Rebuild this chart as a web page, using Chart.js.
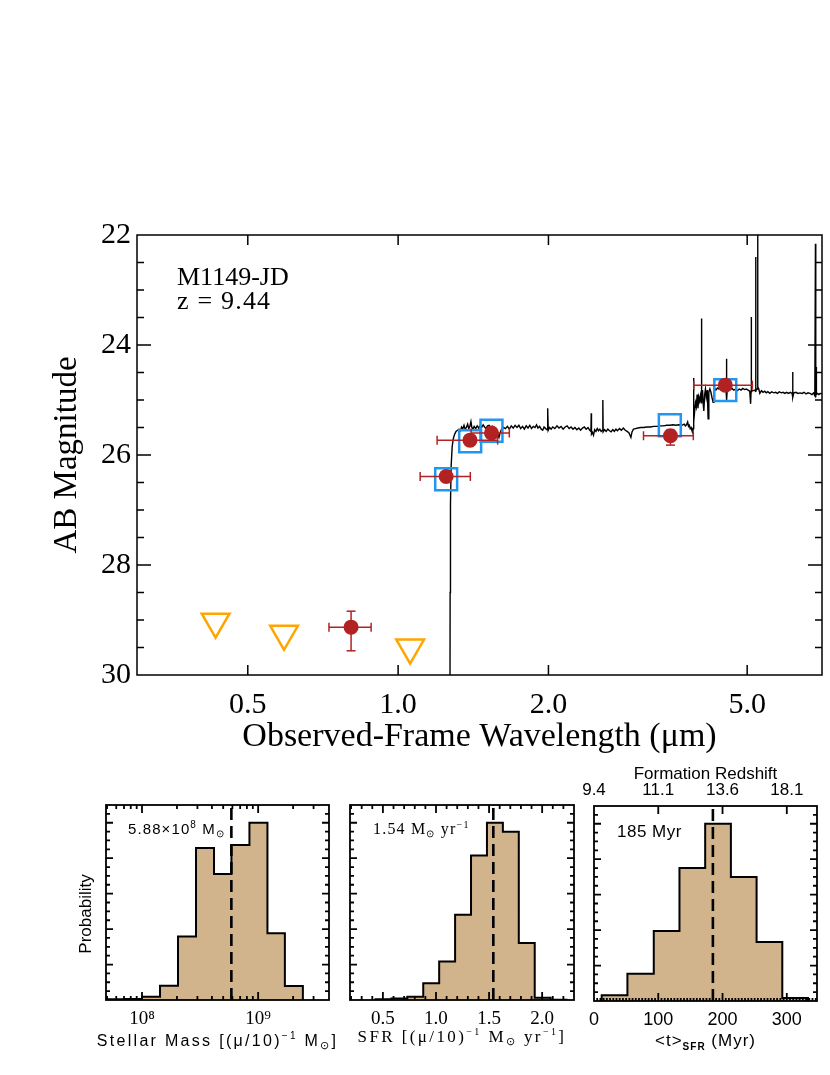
<!DOCTYPE html>
<html>
<head>
<meta charset="utf-8">
<title>M1149-JD SED</title>
<script src="https://cdn.jsdelivr.net/npm/chart.js@4.4.1/dist/chart.umd.min.js"></script>
<style>
  html, body { margin: 0; padding: 0; background: #fff; }
  #page { position: relative; width: 830px; height: 1075px; overflow: hidden; }
  #page canvas { position: absolute; }
</style>
</head>
<body>
<div id="page">
  <canvas id="sed" width="830" height="760" style="left:0;top:0"></canvas>
  <canvas id="mass" width="300" height="320" style="left:40px;top:755px"></canvas>
  <canvas id="sfr" width="245" height="320" style="left:340px;top:755px"></canvas>
  <canvas id="age" width="255" height="320" style="left:575px;top:755px"></canvas>
</div>
<script>
// observed photometry (micron, AB mag)
const bandWave   = [0.805, 1.248, 1.393, 1.538, 3.51, 4.52];
const bandWaveLo = [0.727, 1.107, 1.197, 1.400, 3.10, 3.91];
const bandWaveHi = [0.883, 1.395, 1.582, 1.670, 3.90, 5.12];
const bandMag    = [29.13, 26.39, 25.73, 25.60, 25.65, 24.73];
const bandMagLo  = [28.84, null, null, null, 25.55, null];
const bandMagHi  = [29.56, null, null, null, 25.82, null];

// upper limits
const limitWave = [0.431, 0.591, 1.057];
const limitMag  = [29.03, 29.25, 29.50];

// model photometry
const modelWave = [1.248, 1.394, 1.538, 3.50, 4.52];
const modelMag  = [26.44, 25.75, 25.56, 25.46, 24.82];

// best-fit model spectrum
const specWave = [
  1.270, 1.271, 1.273, 1.277, 1.283, 1.290, 1.298, 1.306, 1.315, 1.324,
  1.333, 1.340, 1.348, 1.355, 1.362, 1.370, 1.378, 1.385, 1.392, 1.399,
  1.405, 1.412, 1.420, 1.430, 1.440, 1.450, 1.460, 1.470, 1.480, 1.490,
  1.500, 1.510, 1.522, 1.532, 1.545, 1.558, 1.570, 1.582, 1.592, 1.600,
  1.610, 1.625, 1.640, 1.655, 1.670, 1.685, 1.700, 1.715, 1.730, 1.745,
  1.760, 1.775, 1.790, 1.805, 1.820, 1.835, 1.850, 1.865, 1.880, 1.893,
  1.905, 1.920, 1.935, 1.948, 1.960, 1.975, 1.988, 1.993, 1.998, 2.010,
  2.025, 2.040, 2.060, 2.080, 2.100, 2.120, 2.140, 2.160, 2.180, 2.200,
  2.220, 2.240, 2.260, 2.280, 2.300, 2.320, 2.340, 2.360, 2.380, 2.400,
  2.420, 2.433, 2.436, 2.439, 2.450, 2.462, 2.475, 2.490, 2.505, 2.520,
  2.535, 2.550, 2.566, 2.570, 2.574, 2.590, 2.610, 2.630, 2.650, 2.670,
  2.690, 2.710, 2.730, 2.750, 2.775, 2.800, 2.825, 2.850, 2.875, 2.900,
  2.925, 2.940, 2.960, 2.990, 3.020, 3.060, 3.100, 3.150, 3.200, 3.250,
  3.300, 3.350, 3.400, 3.450, 3.500, 3.550, 3.600, 3.650, 3.700, 3.740,
  3.760, 3.780, 3.800, 3.815, 3.830, 3.845, 3.860, 3.875, 3.890, 3.900,
  3.905, 3.910, 3.925, 3.940, 3.955, 3.970, 3.985, 4.000, 4.015, 4.030,
  4.045, 4.050, 4.055, 4.070, 4.085, 4.094, 4.110, 4.125, 4.140, 4.160,
  4.176, 4.190, 4.210, 4.230, 4.250, 4.273, 4.290, 4.307, 4.330, 4.360,
  4.390, 4.420, 4.450, 4.480, 4.510, 4.535, 4.545, 4.550, 4.560, 4.590,
  4.620, 4.660, 4.700, 4.740, 4.780, 4.820, 4.860, 4.900, 4.940, 4.980,
  5.020, 5.060, 5.080, 5.090, 5.095, 5.100, 5.140, 5.180, 5.195, 5.200,
  5.205, 5.235, 5.245, 5.255, 5.275, 5.300, 5.340, 5.380, 5.420, 5.460,
  5.500, 5.550, 5.600, 5.650, 5.700, 5.750, 5.800, 5.850, 5.900, 5.950,
  6.000, 6.050, 6.100, 6.150, 6.165, 6.175, 6.200, 6.260, 6.320, 6.380,
  6.440, 6.500, 6.560, 6.620, 6.680, 6.740, 6.790, 6.830, 6.850, 6.860,
  6.870, 6.880, 6.920, 6.960, 7.000, 7.100
];
const specMag = [
  31.00, 28.50, 26.90, 26.20, 25.85, 25.70, 25.62, 25.57, 25.55, 25.53,
  25.56, 25.49, 25.52, 25.46, 25.53, 25.50, 25.44, 25.52, 25.48, 25.39,
  25.50, 25.53, 25.48, 25.52, 25.47, 25.51, 25.46, 25.50, 25.45, 25.49,
  25.52, 25.47, 25.46, 25.51, 25.48, 25.53, 25.57, 25.62, 25.68, 25.60,
  25.54, 25.50, 25.52, 25.48, 25.53, 25.47, 25.51, 25.46, 25.50, 25.46,
  25.52, 25.48, 25.53, 25.47, 25.51, 25.46, 25.52, 25.48, 25.50, 25.45,
  25.51, 25.48, 25.53, 25.55, 25.49, 25.52, 25.54, 25.15, 25.55, 25.50,
  25.53, 25.49, 25.52, 25.47, 25.51, 25.48, 25.53, 25.49, 25.47, 25.52,
  25.49, 25.53, 25.50, 25.54, 25.51, 25.55, 25.51, 25.49, 25.53, 25.50,
  25.55, 25.57, 25.24, 25.62, 25.59, 25.64, 25.54, 25.57, 25.52, 25.56,
  25.53, 25.57, 25.55, 25.00, 25.58, 25.54, 25.57, 25.53, 25.56, 25.58,
  25.54, 25.57, 25.53, 25.56, 25.52, 25.55, 25.51, 25.55, 25.57, 25.60,
  25.68, 25.58, 25.53, 25.52, 25.51, 25.50, 25.50, 25.49, 25.49, 25.48,
  25.48, 25.47, 25.47, 25.46, 25.46, 25.45, 25.46, 25.45, 25.46, 25.44,
  25.47, 25.45, 25.40, 25.48, 25.46, 25.52, 25.50, 25.55, 25.58, 25.52,
  24.60, 25.40, 25.20, 25.05, 25.12, 24.90, 25.15, 24.95, 25.02, 24.92,
  25.05, 23.52, 24.95, 24.82, 25.10, 25.20, 24.90, 24.80, 24.95, 24.82,
  25.34, 24.85, 24.80, 24.86, 24.95, 25.04, 24.85, 24.79, 24.82, 24.78,
  24.80, 24.77, 24.81, 24.78, 24.82, 24.80, 24.25, 25.00, 24.82, 24.78,
  24.81, 24.79, 24.82, 24.80, 24.83, 24.80, 24.82, 24.79, 24.81, 24.80,
  24.82, 24.84, 25.07, 24.85, 23.49, 24.84, 24.83, 24.82, 24.84, 22.40,
  24.83, 24.80, 21.00, 24.76, 24.80, 24.88, 24.83, 24.86, 24.84, 24.87,
  24.85, 24.88, 24.85, 24.87, 24.86, 24.88, 24.85, 24.87, 24.86, 24.88,
  24.86, 24.88, 24.86, 24.88, 24.49, 24.95, 24.87, 24.86, 24.88, 24.87,
  24.88, 24.86, 24.89, 24.87, 24.88, 24.90, 24.87, 24.92, 22.16, 24.95,
  24.40, 24.90, 24.88, 24.90, 24.88, 24.89
];

const waveTicks = [0.5, 1, 2, 5];
const magTicks  = [22, 24, 26, 28, 30];

// posterior histograms (bin edges + normalised probability)
const massEdges = [7.69, 7.845, 8.00, 8.155, 8.31, 8.465, 8.62, 8.77, 8.925, 9.08, 9.23, 9.385]; // log10 M
const massProb  = [0.004, 0.005, 0.019, 0.081, 0.358, 0.858, 0.711, 0.874, 1.0, 0.377, 0.079];
const massMedian = 5.88e8;
const massTicks = [8, 9];
const massTickLabels = ['10⁸', '10⁹'];

const sfrEdges = [0.43, 0.58, 0.73, 0.88, 1.03, 1.18, 1.33, 1.48, 1.63, 1.78, 1.93, 2.08, 2.23];
const sfrProb  = [0.004, 0.008, 0.019, 0.094, 0.217, 0.481, 0.815, 1.0, 0.949, 0.321, 0.013, 0.002];
const sfrMedian = 1.54;
const sfrTicks = [0.5, 1.0, 1.5, 2.0];

const ageEdges = [12, 52, 93, 133, 173, 213, 253, 293, 333];
const ageProb  = [0.032, 0.154, 0.395, 0.75, 1.0, 0.699, 0.333, 0.017];
const ageMedian = 185;
const ageTicks = [0, 100, 200, 300];
const formationZ = ['9.4', '11.1', '13.6', '18.1'];

const RED = '#b22222', BLUE = '#2196f3', ORANGE = '#ffa500', TAN = '#d2b48c';
const serif = '"Liberation Serif", "Times New Roman", serif';
const sans = '"Liberation Sans", Arial, sans-serif';

function steps(a, b, d) {
  const out = [];
  for (let v = a; v <= b + 1e-9; v += d) out.push(+v.toFixed(4));
  return out;
}

// keep the chart area exactly where the axis boxes put it
function fixX(h) {
  return s => { s.height = h; s.paddingLeft = 0; s.paddingRight = 0; };
}
function fixY(w) {
  return s => { s.width = w; s.paddingTop = 0; s.paddingBottom = 0; };
}

// IDL-style inward ticks on all four sides + frame
const inwardTicks = {
  id: 'inwardTicks',
  afterDatasetsDraw(chart, args, opt) {
    const { ctx, chartArea: a } = chart;
    const sx = chart.scales.x, sy = chart.scales.y;
    ctx.save();
    ctx.strokeStyle = '#000';
    ctx.lineWidth = opt.lineWidth || 1.5;
    ctx.beginPath();
    ['bottom', 'top', 'left', 'right'].forEach(side => {
      const s = opt[side];
      if (!s) return;
      [[s.major, s.majorLen], [s.minor, s.minorLen]].forEach(([vals, len]) => {
        (vals || []).forEach(v => {
          if (side === 'bottom' || side === 'top') {
            const p = sx.getPixelForValue(v);
            if (p <= a.left + 1 || p >= a.right - 1) return;
            const y0 = side === 'bottom' ? a.bottom : a.top;
            ctx.moveTo(p, y0);
            ctx.lineTo(p, side === 'bottom' ? y0 - len : y0 + len);
          } else {
            const p = sy.getPixelForValue(v);
            if (p <= a.top + 1 || p >= a.bottom - 1) return;
            const x0 = side === 'left' ? a.left : a.right;
            ctx.moveTo(x0, p);
            ctx.lineTo(side === 'left' ? x0 + len : x0 - len, p);
          }
        });
      });
    });
    ctx.stroke();
    ctx.strokeRect(a.left, a.top, a.right - a.left, a.bottom - a.top);
    ctx.restore();
  }
};

// free text with super/subscript runs
const notes = {
  id: 'notes',
  afterDraw(chart, args, opt) {
    const { ctx, chartArea: a } = chart;
    (opt.items || []).forEach(it => {
      ctx.save();
      ctx.fillStyle = '#000';
      ctx.textBaseline = 'alphabetic';
      ctx.textAlign = 'left';
      if ('letterSpacing' in ctx) ctx.letterSpacing = (it.spacing || 0) + 'px';
      const runs = it.runs.map(r => Object.assign({}, r, {
        font: (r.weight || '') + ' ' + (r.size || it.size) + 'px ' + it.family
      }));
      let w = 0;
      runs.forEach(r => { ctx.font = r.font; r.w = ctx.measureText(r.text).width; w += r.w; });
      let x, y;
      if (it.rotate) {
        ctx.translate(a.left + it.dx, a.top + it.dy);
        ctx.rotate(-Math.PI / 2);
        x = -w / 2; y = 0;
      } else {
        x = it.center ? (a.left + a.right) / 2 - w / 2 : a.left + it.dx;
        y = (it.fromBottom ? a.bottom : a.top) + it.dy;
      }
      runs.forEach(r => { ctx.font = r.font; ctx.fillText(r.text, x, y + (r.shift || 0)); x += r.w; });
      ctx.restore();
    });
  }
};

const noGrid = { display: false, drawTicks: false };

// ---------- main SED panel ----------
const spectrum = specWave.map((w, i) => ({ x: w, y: specMag[i] }));
const modelPts = modelWave.map((w, i) => ({ x: w, y: modelMag[i] }));
const bandPts = bandWave.map((w, i) => ({ x: w, y: bandMag[i] }));
const limitPts = limitWave.map((w, i) => ({ x: w, y: limitMag[i] }));
const xBars = [];
bandWave.forEach((w, i) => {
  xBars.push({ x: bandWaveLo[i], y: bandMag[i] }, { x: bandWaveHi[i], y: bandMag[i] }, { x: bandWaveHi[i], y: null });
});
const yBars = [];
bandWave.forEach((w, i) => {
  if (bandMagLo[i] == null) return;
  yBars.push({ x: w, y: bandMagLo[i] }, { x: w, y: bandMagHi[i] }, { x: w, y: null });
});

new Chart(document.getElementById('sed'), {
  type: 'line',
  data: {
    datasets: [
      { data: spectrum, borderColor: '#000', borderWidth: 1.4, pointRadius: 0, tension: 0, order: 6 },
      { data: modelPts, showLine: false, pointStyle: 'rect', pointRadius: 15.5,
        pointBorderColor: BLUE, pointBorderWidth: 2.5, pointBackgroundColor: 'rgba(0,0,0,0)', order: 5 },
      { data: xBars, borderColor: RED, borderWidth: 1.5, pointStyle: 'line', pointRotation: 90,
        pointRadius: 4.5, pointBorderColor: RED, pointBorderWidth: 1.5, order: 4 },
      { data: yBars, borderColor: RED, borderWidth: 1.5, pointStyle: 'line', pointRotation: 0,
        pointRadius: 4.5, pointBorderColor: RED, pointBorderWidth: 1.5, order: 3 },
      { data: limitPts, showLine: false, pointStyle: 'triangle', pointRotation: 180, pointRadius: 16,
        pointBorderColor: ORANGE, pointBorderWidth: 2.5, pointBackgroundColor: 'rgba(0,0,0,0)', order: 2 },
      { data: bandPts, showLine: false, pointStyle: 'circle', pointRadius: 7.5,
        pointBackgroundColor: RED, pointBorderColor: RED, pointBorderWidth: 0, order: 1 }
    ]
  },
  options: {
    responsive: false, animation: false, events: [],
    layout: { autoPadding: false, padding: { top: 235, right: 8, left: 0, bottom: 0 } },
    plugins: {
      legend: { display: false }, tooltip: { enabled: false },
      inwardTicks: {
        lineWidth: 1.5,
        bottom: { major: waveTicks, majorLen: 10 },
        top: { major: waveTicks, majorLen: 10 },
        left: { major: magTicks, minor: steps(22.5, 29.5, 0.5), majorLen: 14, minorLen: 7 },
        right: { major: magTicks, minor: steps(22.5, 29.5, 0.5), majorLen: 14, minorLen: 7 }
      },
      notes: {
        items: [
          { dx: 40, dy: 50, family: serif, size: 26, runs: [{ text: 'M1149-JD' }] },
          { dx: 40, dy: 74, family: serif, size: 26, spacing: 1.2, runs: [{ text: 'z = 9.44' }] }
        ]
      }
    },
    scales: {
      x: {
        type: 'logarithmic', min: 0.3, max: 7.06,
        grid: noGrid, border: { display: false },
        afterBuildTicks: s => { s.ticks = waveTicks.map(v => ({ value: v })); },
        afterFit: fixX(85),
        ticks: { color: '#000', font: { family: serif, size: 30 }, padding: 12, maxRotation: 0, autoSkip: false,
                 callback: v => Number(v).toFixed(1) },
        title: { display: true, text: 'Observed-Frame Wavelength (μm)', color: '#000',
                 font: { family: serif, size: 34 }, padding: { top: 0, bottom: 3 } }
      },
      y: {
        type: 'linear', min: 22, max: 30, reverse: true,
        grid: noGrid, border: { display: false },
        afterBuildTicks: s => { s.ticks = magTicks.map(v => ({ value: v })); },
        afterFit: fixY(137),
        ticks: { color: '#000', font: { family: serif, size: 30 }, padding: 6 },
        title: { display: true, text: 'AB Magnitude', color: '#000',
                 font: { family: serif, size: 33 }, padding: { top: 48, bottom: 0 } }
      }
    }
  },
  plugins: [inwardTicks, notes]
});

// ---------- posterior panels ----------
function posterior(id, o) {
  const hist = [{ x: o.edges[0], y: 0 }];
  o.probs.forEach((p, i) => hist.push({ x: o.edges[i], y: p }));
  hist.push({ x: o.edges[o.edges.length - 1], y: 0 });
  const median = [{ x: o.median, y: 0 }, { x: o.median, y: 1.1 }];

  const scales = {
    x: {
      type: 'linear', min: o.xMin, max: o.xMax,
      grid: noGrid, border: { display: false },
      afterBuildTicks: s => { s.ticks = o.ticks.map(v => ({ value: v })); },
      afterFit: fixX(o.xHeight),
      ticks: { color: '#000', font: o.tickFont, padding: 8, maxRotation: 0, autoSkip: false, callback: o.tickLabel }
    },
    y: {
      type: 'linear', min: 0, max: 1.1,
      grid: noGrid, border: { display: false },
      ticks: { display: false },
      afterFit: fixY(o.yWidth)
    }
  };
  if (o.topAxis) scales.x2 = o.topAxis;

  new Chart(document.getElementById(id), {
    type: 'line',
    data: {
      datasets: [
        { data: median, borderColor: '#000', borderWidth: 2.6, borderDash: [12, 6], pointRadius: 0, order: 0 },
        { data: hist, stepped: true, fill: 'origin', backgroundColor: TAN, borderColor: '#000',
          borderWidth: 2, pointRadius: 0, order: 1 }
      ]
    },
    options: {
      responsive: false, animation: false, events: [],
      layout: { autoPadding: false, padding: { top: o.padTop, right: o.padRight, left: 0, bottom: 0 } },
      plugins: {
        legend: { display: false }, tooltip: { enabled: false },
        inwardTicks: Object.assign({ lineWidth: 1.8 }, o.frameTicks),
        notes: { items: o.notes }
      },
      scales
    },
    plugins: [inwardTicks, notes]
  });
}

const probMajor = [0.2, 0.4, 0.6, 0.8, 1.0];
const probMinor = steps(0.05, 1.05, 0.05);
const sideY = { major: probMajor, minor: probMinor, majorLen: 7, minorLen: 4 };

const logMinor = [];
[7, 8, 9].forEach(n => [2, 3, 4, 5, 6, 7, 8, 9].forEach(k => logMinor.push(n + Math.log10(k))));

posterior('mass', {
  edges: massEdges, probs: massProb, median: Math.log10(massMedian),
  xMin: 7.69, xMax: 9.61, ticks: massTicks,
  tickLabel: v => massTickLabels[massTicks.indexOf(v)],
  tickFont: { family: serif, size: 19 },
  xHeight: 75, yWidth: 66, padTop: 50, padRight: 11,
  frameTicks: {
    bottom: { major: massTicks, minor: logMinor, majorLen: 8, minorLen: 4 },
    top: { major: massTicks, minor: logMinor, majorLen: 8, minorLen: 4 },
    left: sideY, right: sideY
  },
  notes: [
    { rotate: true, dx: -15, dy: 109, family: sans, size: 17, runs: [{ text: 'Probability' }] },
    { dx: 22, dy: 29, family: sans, size: 15, spacing: 1.1,
      runs: [{ text: '5.88×10' }, { text: '8', size: 10, shift: -6 }, { text: ' M' }, { text: '⊙', size: 10, shift: 3 }] },
    { center: true, fromBottom: true, dy: 46, family: sans, size: 16, spacing: 2.3,
      runs: [{ text: 'Stellar Mass [(μ/10)' }, { text: '−1', size: 10, shift: -7 }, { text: ' M' },
             { text: '⊙', size: 11, shift: 3 }, { text: ']' }] }
  ]
});

posterior('sfr', {
  edges: sfrEdges, probs: sfrProb, median: sfrMedian,
  xMin: 0.19, xMax: 2.30, ticks: sfrTicks,
  tickLabel: v => v.toFixed(1),
  tickFont: { family: serif, size: 19 },
  xHeight: 75, yWidth: 10, padTop: 50, padRight: 11,
  frameTicks: {
    bottom: { major: sfrTicks, minor: steps(0.2, 2.3, 0.1), majorLen: 8, minorLen: 4 },
    top: { major: sfrTicks, minor: steps(0.2, 2.3, 0.1), majorLen: 8, minorLen: 4 },
    left: sideY, right: sideY
  },
  notes: [
    { dx: 23, dy: 29, family: serif, size: 16, spacing: 1.2,
      runs: [{ text: '1.54 M' }, { text: '⊙', size: 10, shift: 3 }, { text: ' yr' }, { text: '−1', size: 10, shift: -6 }] },
    { center: true, fromBottom: true, dy: 42, family: serif, size: 17, spacing: 2.4,
      runs: [{ text: 'SFR [(μ/10)' }, { text: '−1', size: 10, shift: -7 }, { text: ' M' }, { text: '⊙', size: 11, shift: 3 },
             { text: ' yr' }, { text: '−1', size: 10, shift: -7 }, { text: ']' }] }
  ]
});

posterior('age', {
  edges: ageEdges, probs: ageProb, median: ageMedian,
  xMin: 0, xMax: 347, ticks: ageTicks,
  tickLabel: v => String(v),
  tickFont: { family: sans, size: 18 },
  xHeight: 74, yWidth: 19, padTop: 0, padRight: 13,
  topAxis: {
    axis: 'x', type: 'linear', position: 'top', min: 0, max: 347,
    grid: noGrid, border: { display: false },
    afterBuildTicks: s => { s.ticks = ageTicks.map(v => ({ value: v })); },
    afterFit: fixX(51),
    ticks: { color: '#000', font: { family: sans, size: 17 }, padding: 5, maxRotation: 0, autoSkip: false,
             callback: (v, i) => formationZ[i] },
    title: { display: true, text: 'Formation Redshift', color: '#000', font: { family: sans, size: 17 },
             padding: { top: 9, bottom: 0 } }
  },
  frameTicks: {
    bottom: { major: ageTicks, minor: steps(5, 345, 5), majorLen: 8, minorLen: 3 },
    top: { major: ageTicks, majorLen: 8 },
    left: sideY, right: sideY
  },
  notes: [
    { dx: 23, dy: 31, family: sans, size: 17, spacing: 0.5, runs: [{ text: '185 Myr' }] },
    { center: true, fromBottom: true, dy: 45, family: sans, size: 17, spacing: 1,
      runs: [{ text: '<t>' }, { text: 'SFR', size: 10, weight: 'bold', shift: 4 }, { text: ' (Myr)' }] }
  ]
});
</script>
</body>
</html>
